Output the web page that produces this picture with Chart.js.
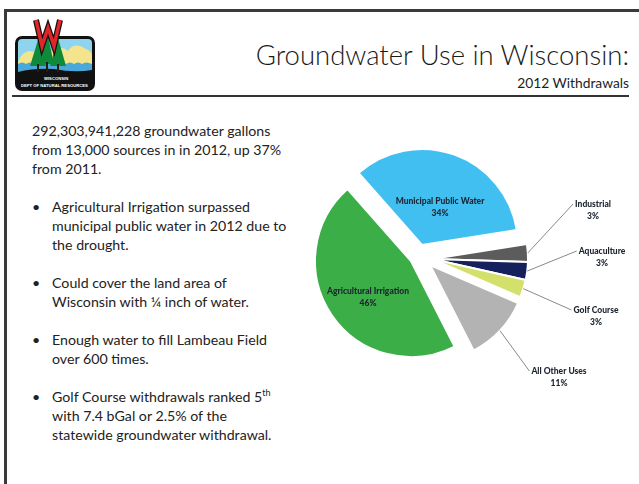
<!DOCTYPE html>
<html>
<head>
<meta charset="utf-8">
<script src="https://cdn.jsdelivr.net/npm/chart.js@4.4.1/dist/chart.umd.min.js"></script>
<style>
  html, body { margin:0; padding:0; background:#fff; }
  body { width:639px; height:484px; position:relative; overflow:hidden; font-family:"Lato","Open Sans",sans-serif; color:#222; }
  .frame { position:absolute; left:4px; top:9px; width:700px; height:600px; border-left:3px solid #3a3a3a; border-top:3px solid #3a3a3a; }
  .hline { position:absolute; left:12px; top:95px; width:617px; height:2px; background:#333; }
  .title { position:absolute; right:10px; top:38px; font-size:27.5px; font-weight:300; white-space:nowrap; color:#1a1a1a; }
  .sub { position:absolute; right:10px; top:74px; font-size:13.8px; font-weight:400; white-space:nowrap; color:#1e1e1e; }
  .body { position:absolute; left:32px; top:121px; font-size:14.2px; line-height:19px; white-space:nowrap; color:#222; }
  .body .b { position:relative; padding-left:20px; }
  .body .b::before { content:"•"; position:absolute; left:0; }
  .gap { height:19px; }
  sup { font-size:9px; line-height:0; vertical-align:6px; }
  #logo { position:absolute; left:14px; top:18px; }
  #wrap { position:absolute; left:280px; top:114px; width:359px; height:290px; }
</style>
</head>
<body>
<div class="frame"></div>
<svg id="logo" width="82" height="74" viewBox="0 0 82 74">
  <rect x="1" y="18" width="80" height="55" rx="7" fill="#111"/>
  <rect x="4" y="21" width="74" height="26" rx="4" fill="#8fd4ee"/>
  <path d="M4 44 Q10 30 20 34 Q28 28 36 34 Q46 26 54 33 Q60 24 70 30 Q76 32 78 36 L78 46 L4 46 Z" fill="#f4e58c"/>
  <path d="M4 46 Q8 43 12 46 Q16 43 20 46 Q24 43 28 46 Q32 43 36 46 Q40 43 44 46 Q48 43 52 46 Q56 43 60 46 Q64 43 68 46 Q72 43 78 46 L78 52 Q60 55 40 51 Q20 50 4 54 Z" fill="#4aa9d8"/>
  <polygon points="16,48 24,22 32,48" fill="#0f8a3a"/>
  <polygon points="26,46 33,14 40,46" fill="#0f8a3a"/>
  <polygon points="36,48 44,20 52,48" fill="#0f8a3a"/>
  <rect x="23" y="46" width="2" height="8" fill="#2b1a10"/>
  <rect x="32" y="44" width="2" height="10" fill="#2b1a10"/>
  <rect x="43" y="46" width="2" height="8" fill="#2b1a10"/>
  <polyline points="22,2 28,28 34,10 40,28 46,2" fill="none" stroke="#111" stroke-width="6"/>
  <polyline points="22,2 28,28 34,10 40,28 46,2" fill="none" stroke="#e0262b" stroke-width="3.5"/>
  <text x="30" y="62" font-family="Liberation Sans Narrow, Liberation Sans" font-size="4.2" font-weight="bold" fill="#fff">WISCONSIN</text>
  <text x="7" y="69" font-family="Liberation Sans Narrow, Liberation Sans" font-size="4.2" font-weight="bold" fill="#fff">DEPT OF NATURAL RESOURCES</text>
</svg>
<div class="title">Groundwater Use in Wisconsin:</div>
<div class="sub">2012 Withdrawals</div>
<div class="hline"></div>
<div class="body">
  <div>292,303,941,228 groundwater gallons</div>
  <div>from 13,000 sources in in 2012, up 37%</div>
  <div>from 2011.</div>
  <div class="gap"></div>
  <div class="b">Agricultural Irrigation surpassed<br>municipal public water in 2012 due to<br>the drought.</div>
  <div class="gap"></div>
  <div class="b">Could cover the land area of<br>Wisconsin with ¼ inch of water.</div>
  <div class="gap"></div>
  <div class="b">Enough water to fill Lambeau Field<br>over 600 times.</div>
  <div class="gap"></div>
  <div class="b">Golf Course withdrawals ranked 5<sup>th</sup><br>with 7.4 bGal or 2.5% of the<br>statewide groundwater withdrawal.</div>
</div>
<div id="wrap"><canvas id="c" width="359" height="290"></canvas></div>
<script>
// ---- data ----
const categories = ["Industrial", "Aquaculture", "Golf Course", "All Other Uses", "Agricultural Irrigation", "Municipal Public Water"];
const sharePercent = [3, 3, 3, 11, 46, 34];
const sliceColors = ["#5c5c5c", "#15205c", "#d3e06b", "#b3b3b3", "#3cae48", "#41bff0"];

// ---- styling (not data) ----
const EXPLODE = [[0,0],[0,0],[0,0],[-2,6],[-21,2],[-10,-14]];   // manual slice displacement, px
const INSIDE = [false,false,false,false,true,true];
// label-block centre relative to pie centre
const LABEL_POS = [[161,-49],[170,-2],[164,57],[127,118],[-64,38],[8,-52]];

const labelPlugin = {
  id: 'sliceLabels',
  beforeDatasetDraw(chart, args) {
    const ctx = chart.ctx;
    args.meta.data.forEach((arc, i) => {
      ctx.save();
      ctx.translate(EXPLODE[i][0], EXPLODE[i][1]);
      arc.draw(ctx, chart.chartArea);
      ctx.restore();
    });
    return false;
  },
  afterDatasetsDraw(chart) {
    const ctx = chart.ctx;
    const meta = chart.getDatasetMeta(0);
    ctx.save();
    ctx.font = "900 8.5px Lato, 'Open Sans', sans-serif";
    ctx.textAlign = "center";
    ctx.textBaseline = "middle";
    meta.data.forEach((arc, i) => {
      const p = arc.getProps(['x','y','startAngle','endAngle','outerRadius'], true);
      const mid = (p.startAngle + p.endAngle) / 2;
      const ex = EXPLODE[i][0], ey = EXPLODE[i][1];
      const pct = sharePercent[i] + "%";
      const tx = p.x + LABEL_POS[i][0];
      const ty = p.y + LABEL_POS[i][1];
      ctx.fillStyle = "#1c2430";
      if (!INSIDE[i]) {
        const sx = p.x + ex + Math.cos(mid) * p.outerRadius;
        const sy = p.y + ey + Math.sin(mid) * p.outerRadius;
        const w = ctx.measureText(categories[i]).width;
        const lx = tx - w / 2 - 2;
        const ly = ty - 6;
        ctx.strokeStyle = "#8f8585";
        ctx.lineWidth = 1;
        ctx.beginPath();
        ctx.moveTo(sx, sy);
        ctx.lineTo(lx, ly);
        ctx.stroke();
      }
      ctx.fillText(categories[i], tx, ty - 6);
      ctx.fillText(pct, tx, ty + 6);
    });
    ctx.restore();
  }
};

new Chart(document.getElementById('c'), {
  type: 'pie',
  data: {
    labels: categories,
    datasets: [{
      data: sharePercent,
      backgroundColor: sliceColors,
      borderColor: "#ffffff",
      borderWidth: 2,
      clip: false
    }]
  },
  options: {
    responsive: false,
    animation: false,
    rotation: 81,
    radius: 96,
    layout: { padding: { left: 0, right: 55, top: 0, bottom: 0 } },
    plugins: { legend: { display: false }, tooltip: { enabled: false } }
  },
  plugins: [labelPlugin]
});
</script>
</body>
</html>
